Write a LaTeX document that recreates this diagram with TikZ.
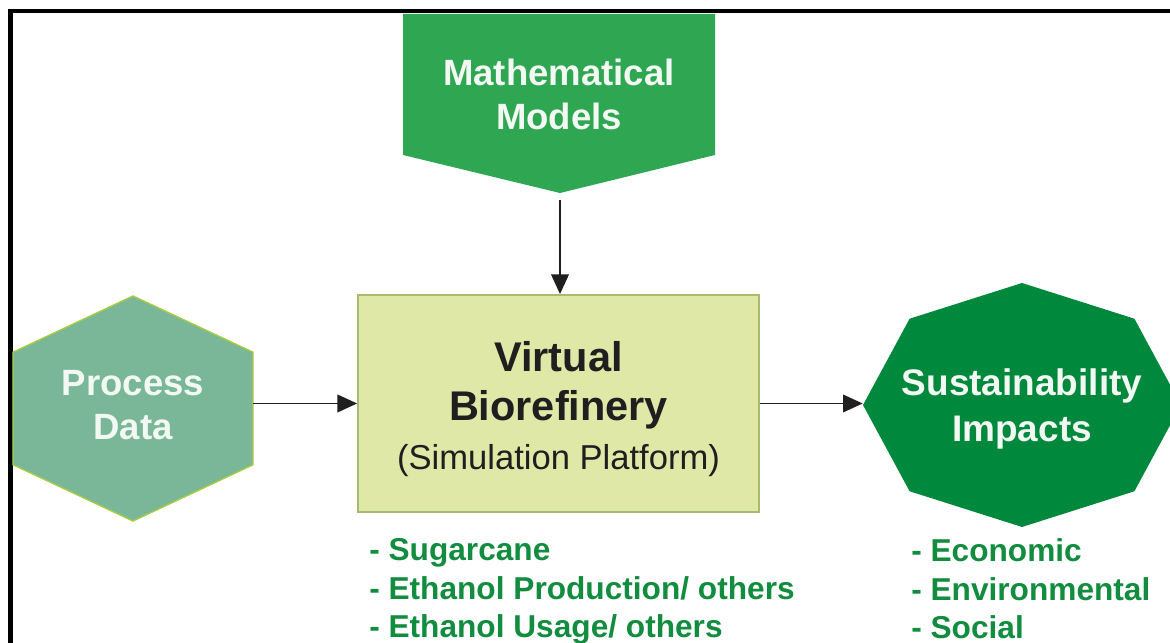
\documentclass[tikz,border=0pt]{standalone}
\usepackage{fontspec}
\setmainfont{Liberation Sans}
\usetikzlibrary{arrows.meta}

\definecolor{modelgreen}{RGB}{46,166,82}
\definecolor{impactgreen}{RGB}{0,137,61}
\definecolor{datafill}{RGB}{121,183,152}
\definecolor{dataedge}{RGB}{166,204,70}
\definecolor{platfill}{RGB}{223,232,166}
\definecolor{platedge}{RGB}{168,188,112}
\definecolor{listgreen}{RGB}{18,140,62}
\definecolor{labelwhite}{RGB}{242,248,242}

\begin{document}
\begin{tikzpicture}[x=0.025cm,y=0.025cm,
   title/.style={text=labelwhite, align=center, inner sep=0pt,
      font=\fontsize{26}{31.3}\selectfont\bfseries},
   flow/.style={draw=black!88, line width=1.4pt, -{Triangle[length=14pt,width=12.5pt]}},
   platform/.style={draw=platedge, fill=platfill, line width=1.2pt,
      minimum width=10.025cm, minimum height=5.425cm},
   listtext/.style={text=listgreen, align=left, anchor=north west, inner sep=0pt,
      font=\fontsize{22.5}{27.6}\selectfont\bfseries}]
\useasboundingbox (0,0) rectangle (1170,643);
\draw[line width=2.85pt] (1200,631.7) -- (10.5,631.7) -- (10.5,-30);

\fill[modelgreen] (403,629) -- (715,629) -- (715,488) -- (560,450) -- (403,488) -- cycle;
\node[title] (model) at (559,549) {Mathematical\\Models};

\begin{scope}[shift={(133,234.5)}]
\filldraw[fill=datafill, draw=dataedge, line width=1pt] (90:138.6 and 112.5)
   \foreach \a in {30,-30,-90,-150,150} { -- (\a:138.6 and 112.5) } -- cycle;
\end{scope}
\node[title, minimum width=6cm] (data) at (133,238) {Process\\Data};

\begin{scope}[shift={(1022,238)}]
\fill[impactgreen] (0:159 and 122)
   \foreach \a in {45,90,...,315} { -- (\a:159 and 122) } -- cycle;
\end{scope}
\node[title, minimum width=7.95cm, font=\fontsize{26.3}{32.7}\selectfont\bfseries]
   (impact) at (1022,234) {Sustainability\\Impacts};

\node[platform] (vb) at (558.5,239.5) {};
\node[align=center, inner sep=0pt, text=black!88, font=\fontsize{29.5}{34.9}\selectfont\bfseries]
   (vbtext) at (558.5,234) {Virtual\\Biorefinery\\{\fontsize{24.6}{33.4}\selectfont\mdseries (Simulation Platform)}};

\node[listtext] (feedstock) at (369,105) {- Sugarcane\\- Ethanol Production/ others\\- Ethanol Usage/ others};
\node[listtext] (pillars) at (911,105) {- Economic\\- Environmental\\- Social};

\coordinate (modeltip) at (560,443);
\draw[flow] (modeltip) -- (modeltip |- vb.north);
\draw[flow] (data.east |- vb.west) -- (vb.west);
\draw[flow] (vb.east) -- (vb.east -| impact.west);
\end{tikzpicture}
\end{document}
